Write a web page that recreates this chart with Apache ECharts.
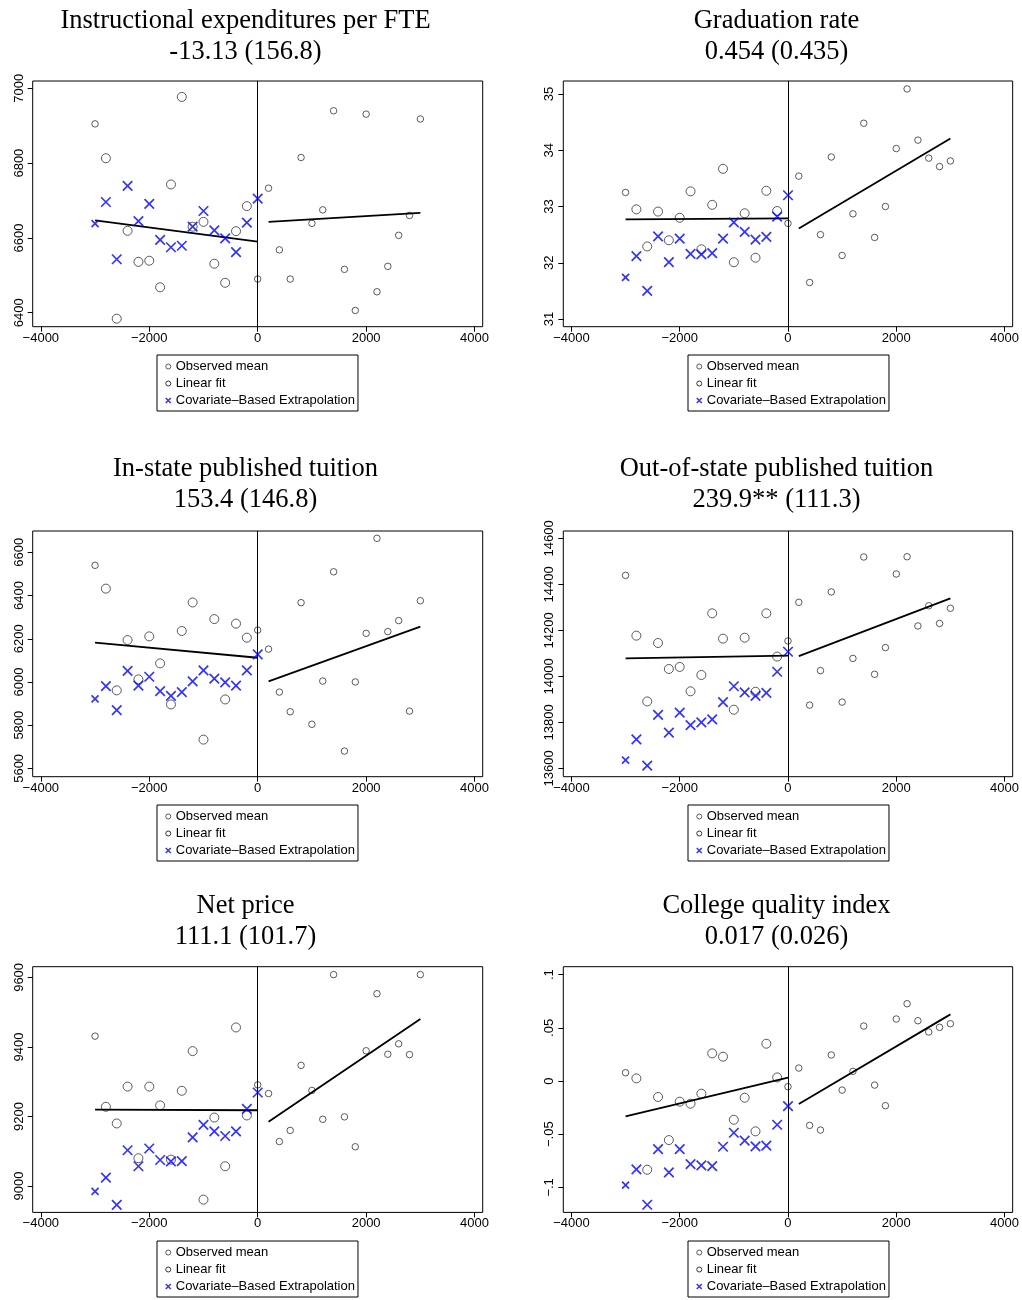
<!DOCTYPE html>
<html><head><meta charset="utf-8">
<script src="https://cdn.jsdelivr.net/npm/echarts@6/dist/echarts.min.js"></script>
<style>html,body{margin:0;padding:0;background:#fff}#c{width:1022px;height:1300px}</style>
</head><body><div id="c"></div>
<script>
// ---------- DATA ----------
const xBins = [-3000,-2800,-2600,-2400,-2200,-2000,-1800,-1600,-1400,-1200,-1000,-800,-600,-400,-200,0,
               200,400,600,800,1000,1200,1400,1600,1800,2000,2200,2400,2600,2800,3000];
const xExtrap = [-3000,-2800,-2600,-2400,-2200,-2000,-1800,-1600,-1400,-1200,-1000,-800,-600,-400,-200,0];
const fitXLeft = [-3000, 0];
const fitXRight = [200, 3000];
const xTicks = [-4000, -2000, 0, 2000, 4000];
const seriesNames = ['Observed mean', 'Linear fit', 'Covariate\u2013Based Extrapolation'];

const titles = ['Instructional expenditures per FTE', 'Graduation rate', 'In-state published tuition',
                'Out-of-state published tuition', 'Net price', 'College quality index'];
const estimates = ['-13.13 (156.8)', '0.454 (0.435)', '153.4 (146.8)', '239.9** (111.3)', '111.1 (101.7)', '0.017 (0.026)'];

// Panel 1: Instructional expenditures per FTE
const expObs = [6905,6813,6384,6619,6536,6539,6468,6743,6977,6630,6643,6531,6480,6618,6685,6490,
                6733,6568,6490,6815,6639,6675,6940,6516,6406,6931,6456,6524,6607,6660,6918];
const expExtrap = [6638,6696,6543,6739,6645,6691,6595,6575,6579,6630,6672,6620,6599,6562,6641,6705];
const expFitLeft = [6647, 6590];
const expFitRight = [6643, 6667];
const expTicks = [6400, 6600, 6800, 7000];

// Panel 2: Graduation rate
const gradObs = [33.25,32.95,32.29,32.91,32.40,32.80,33.27,32.24,33.03,33.67,32.01,32.88,32.09,33.28,32.92,32.70,
                 33.54,31.65,32.50,33.88,32.13,32.87,34.48,32.45,33.00,34.03,35.09,34.18,33.86,33.71,33.81];
const gradExtrap = [31.74,32.12,31.50,32.47,32.01,32.43,32.16,32.15,32.17,32.43,32.72,32.55,32.41,32.46,32.82,33.20];
const gradFitLeft = [32.77, 32.79];
const gradFitRight = [32.61, 34.21];
const gradTicks = [31, 32, 33, 34, 35];

// Panel 3: In-state published tuition
const inObs = [6540,6432,5961,6194,6012,6211,6086,5896,6236,6368,5733,6291,5919,6270,6205,6240,
               6152,5953,5862,6367,5804,6004,6510,5680,6000,6225,6665,6233,6284,5865,6376];
const inExtrap = [5922,5981,5870,6051,5983,6024,5958,5936,5953,6003,6054,6015,5998,5983,6054,6128];
const inFitLeft = [6182, 6112];
const inFitRight = [6003, 6256];
const inTicks = [5600, 5800, 6000, 6200, 6400, 6600];

// Panel 4: Out-of-state published tuition
const outObs = [14439,14177,13891,14145,14032,14041,13935,14006,14274,14164,13855,14168,13933,14274,14086,14154,
                14322,13875,14025,14367,13888,14078,14519,14009,14125,14445,14520,14219,14307,14230,14296];
const outExtrap = [13636,13726,13612,13833,13755,13842,13788,13800,13813,13888,13957,13930,13915,13928,14020,14107];
const outFitLeft = [14078, 14090];
const outFitRight = [14088, 14339];
const outTicks = [13600, 13800, 14000, 14200, 14400, 14600];

// Panel 5: Net price
const netObs = [9431,9228,9180,9286,9080,9286,9232,9076,9274,9388,8961,9197,9057,9456,9203,9291,
                9266,9128,9160,9347,9275,9192,9608,9199,9113,9389,9553,9379,9409,9378,9608];
const netExtrap = [8985,9024,8946,9103,9057,9108,9075,9071,9072,9140,9176,9157,9144,9157,9222,9269];
const netFitLeft = [9220, 9218];
const netFitRight = [9185, 9480];
const netTicks = [9000, 9200, 9400, 9600];

// Panel 6: College quality index
const cqObs = [0.0078,0.0025,-0.0834,-0.0150,-0.0555,-0.0194,-0.0213,-0.0119,0.0260,0.0229,-0.0364,-0.0157,-0.0473,0.0351,0.0034,-0.0053,
               0.0122,-0.0417,-0.0461,0.0245,-0.0085,0.0091,0.0517,-0.0038,-0.0232,0.0583,0.0727,0.0567,0.0461,0.0505,0.0539];
const cqExtrap = [-0.0978,-0.0831,-0.1163,-0.0640,-0.0859,-0.0640,-0.0781,-0.0793,-0.0799,-0.0618,-0.0486,-0.0561,-0.0614,-0.0608,-0.0411,-0.0235];
const cqFitLeft = [-0.0332, 0.0031];
const cqFitRight = [-0.0216, 0.0627];
const cqTicks = [-0.1, -0.05, 0, 0.05, 0.1];

// ---------- LAYOUT / STYLE ----------
const panels = [
  {obs: expObs, ext: expExtrap, fl: expFitLeft, fr: expFitRight, ticks: expTicks, ymin: 6362.6, ymax: 7019.6, fmt: 'int'},
  {obs: gradObs, ext: gradExtrap, fl: gradFitLeft, fr: gradFitRight, ticks: gradTicks, ymin: 30.864, ymax: 35.231, fmt: 'int'},
  {obs: inObs, ext: inExtrap, fl: inFitLeft, fr: inFitRight, ticks: inTicks, ymin: 5561.4, ymax: 6698.8, fmt: 'int'},
  {obs: outObs, ext: outExtrap, fl: outFitLeft, fr: outFitRight, ticks: outTicks, ymin: 13563.8, ymax: 14631.9, fmt: 'int'},
  {obs: netObs, ext: netExtrap, fl: netFitLeft, fr: netFitRight, ticks: netTicks, ymin: 8924.3, ymax: 9630.7, fmt: 'int'},
  {obs: cqObs, ext: cqExtrap, fl: cqFitLeft, fr: cqFitRight, ticks: cqTicks, ymin: -0.1235, ymax: 0.1075, fmt: 'dec'}
];
const colLeft = [32.7, 563.3];
const colWidth = 450;
const rowTop = [81, 531, 966.7];
const rowHeight = 245.7;
const titleX = [245.5, 776.5];
const titleY = [21, 469, 906];
const legendLeft = [157, 688];
const legendTop = [355, 805, 1241];

const SANS = '"Liberation Sans", Arial, sans-serif';
const SERIF = '"Liberation Serif", "Times New Roman", serif';
const XPATH = 'path://M0,0L10,10M10,0L0,10';

function fmtLabel(v, kind) {
  if (kind === 'dec') {
    if (Math.abs(v) < 1e-9) return '0';
    let s = String(+v.toFixed(3));
    s = s.replace('0.', '.');
    return s.replace('-', '\u2212');
  }
  return String(Math.round(v)).replace('-', '\u2212');
}

const grid = [], xAxis = [], yAxis = [], series = [], legend = [], graphic = [];
panels.forEach((p, i) => {
  const col = i % 2, row = Math.floor(i / 2);
  grid.push({left: colLeft[col], top: rowTop[row], width: colWidth, height: rowHeight,
             show: true, borderColor: '#000', borderWidth: 1, backgroundColor: '#fff', containLabel: false});
  xAxis.push({type: 'value', gridIndex: i, min: -4150, max: 4150, position: 'bottom',
    axisLine: {show: false, onZero: false}, splitLine: {show: false},
    axisTick: {show: true, length: 5, lineStyle: {color: '#000', width: 1}, customValues: xTicks},
    axisLabel: {show: true, color: '#000', fontFamily: SANS, fontSize: 13, margin: 5, customValues: xTicks,
                formatter: v => fmtLabel(v, 'int')}});
  yAxis.push({type: 'value', gridIndex: i, min: p.ymin, max: p.ymax, position: 'left',
    axisLine: {show: false, onZero: false}, splitLine: {show: false},
    axisTick: {show: true, length: 5, lineStyle: {color: '#000', width: 1}, customValues: p.ticks},
    axisLabel: {show: true, rotate: 90, color: '#000', fontFamily: SANS, fontSize: 13, margin: 7, customValues: p.ticks,
                formatter: v => fmtLabel(v, p.fmt)}});
  series.push({
    type: 'scatter', name: seriesNames[0], xAxisIndex: i, yAxisIndex: i,
    data: xBins.map((x, k) => [x, p.obs[k]]),
    symbol: 'circle',
    symbolSize: (v) => (v[0] < 0 && v[0] > -3000) ? 9 : 6.5,
    itemStyle: {color: 'rgba(0,0,0,0)', borderColor: '#333', borderWidth: 1},
    z: 3,
    markLine: {silent: true, symbol: ['none', 'none'], label: {show: false},
               lineStyle: {color: '#000', width: 1, type: 'solid'}, data: [{xAxis: 0}], animation: false}
  });
  series.push({type: 'line', name: seriesNames[1], xAxisIndex: i, yAxisIndex: i,
    data: fitXLeft.map((x, k) => [x, p.fl[k]]), showSymbol: false, symbol: 'none',
    lineStyle: {color: '#000', width: 1.8}, z: 4});
  series.push({type: 'line', name: seriesNames[1], xAxisIndex: i, yAxisIndex: i,
    data: fitXRight.map((x, k) => [x, p.fr[k]]), showSymbol: false, symbol: 'none',
    lineStyle: {color: '#000', width: 1.8}, z: 4});
  series.push({type: 'scatter', name: seriesNames[2], xAxisIndex: i, yAxisIndex: i,
    data: xExtrap.map((x, k) => [x, p.ext[k]]),
    symbol: XPATH,
    symbolSize: (v) => v[0] === -3000 ? 7 : 9.5,
    itemStyle: {color: 'rgba(0,0,0,0)', borderColor: '#0000ff', borderWidth: 1.7},
    z: 5});
  legend.push({
    left: legendLeft[col], top: legendTop[row], orient: 'vertical', selectedMode: false,
    padding: [5, 3, 4, 8], itemGap: 4, itemWidth: 5, itemHeight: 5,
    borderColor: '#000', borderWidth: 1, backgroundColor: '#fff',
    textStyle: {color: '#000', fontFamily: SANS, fontSize: 13},
    data: [
      {name: seriesNames[0], icon: 'circle', itemStyle: {color: 'rgba(0,0,0,0)', borderColor: '#333', borderWidth: 1}},
      {name: seriesNames[1], icon: 'circle', itemStyle: {color: 'rgba(0,0,0,0)', borderColor: '#333', borderWidth: 1}},
      {name: seriesNames[2], icon: XPATH, itemStyle: {color: 'rgba(0,0,0,0)', borderColor: '#0000ff', borderWidth: 1.5}}
    ]
  });
  graphic.push({type: 'text', x: titleX[col], y: titleY[row],
    style: {text: titles[i], textAlign: 'center', textVerticalAlign: 'middle', font: '26.5px ' + SERIF, fill: '#000'}});
  graphic.push({type: 'text', x: titleX[col], y: titleY[row] + 31,
    style: {text: estimates[i], textAlign: 'center', textVerticalAlign: 'middle', font: '26.5px ' + SERIF, fill: '#000'}});
});

const chart = echarts.init(document.getElementById('c'), null, {renderer: 'canvas'});
chart.setOption({
  backgroundColor: '#fff', animation: false,
  grid, xAxis, yAxis, series, legend, graphic
});
</script></body></html>
